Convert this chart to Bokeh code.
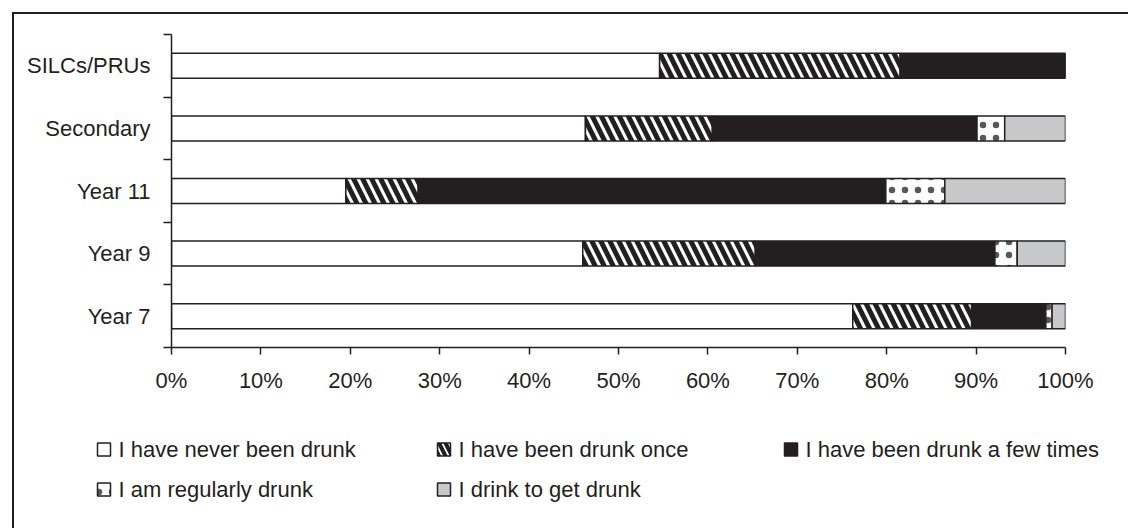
from bokeh.plotting import figure
from bokeh.layouts import column
from bokeh.models import ColumnDataSource, Range1d, FixedTicker
from bokeh.core.properties import value
from bokeh.embed import file_html
from bokeh.resources import INLINE

# ---- data (percent of pupils, each row sums to 100) ----
groups = ["Year 7", "Year 9", "Year 11", "Secondary", "SILCs/PRUs"]
series = [
    "I have never been drunk",
    "I have been drunk once",
    "I have been drunk a few times",
    "I am regularly drunk",
    "I drink to get drunk",
]
never = [76.2, 46.0, 19.5, 46.3, 54.6]
once = [13.3, 19.3, 8.1, 14.2, 26.9]
few_times = [8.3, 26.8, 52.3, 29.6, 18.5]
regularly = [0.7, 2.5, 6.6, 3.1, 0.0]
to_get_drunk = [1.5, 5.4, 13.5, 6.8, 0.0]
x_ticks = [0, 10, 20, 30, 40, 50, 60, 70, 80, 90, 100]
x_tick_labels = ["0%", "10%", "20%", "30%", "40%", "50%", "60%", "70%", "80%", "90%", "100%"]

INK = "#231f20"
GREY = "#c7c8ca"
FONT = "Liberation Sans"

keys = ["never", "once", "few", "regular", "get"]
fills = ["white", "white", INK, "white", GREY]
hatches = [None, "\\", None, ".", None]
hatch_scales = [18, 18, 18, 13, 18]
hatch_weights = [5, 5, 5, 1, 5]
hatch_alphas = [1.0, 1.0, 1.0, 0.75, 1.0]

centers = [i + 0.5 for i in range(len(groups))]
bounds = [float(i) for i in range(len(groups) + 1)]

src = ColumnDataSource(dict(
    y=centers, never=never, once=once, few=few_times,
    regular=regularly, get=to_get_drunk,
))

p = figure(
    width=1114, height=406, x_range=Range1d(0, 100), y_range=Range1d(0, len(groups)),
    toolbar_location=None, output_backend="svg",
    min_border_left=157, min_border_right=63, min_border_top=20, min_border_bottom=73,
)
p.frame_align = False
p.outline_line_color = None
p.xgrid.visible = False
p.ygrid.visible = False
p.background_fill_color = "white"
p.border_fill_color = "white"

p.hbar_stack(
    keys, y="y", height=0.4, source=src,
    fill_color=fills, line_color=INK, line_width=1.5,
    hatch_pattern=hatches, hatch_color=INK, hatch_alpha=hatch_alphas,
    hatch_scale=hatch_scales, hatch_weight=hatch_weights,
)

for ax in (p.xaxis, p.yaxis):
    ax.axis_line_color = INK
    ax.axis_line_width = 1.5
    ax.major_label_text_font = FONT
    ax.major_label_text_font_size = "22px"
    ax.major_label_text_color = INK

p.xaxis.ticker = FixedTicker(ticks=x_ticks)
p.xaxis.major_label_overrides = {t: s for t, s in zip(x_ticks, x_tick_labels)}
p.xaxis.major_tick_out = 7
p.xaxis.major_tick_in = 0
p.xaxis.major_tick_line_color = INK
p.xaxis.major_tick_line_width = 1.5
p.xaxis.major_label_standoff = 13

# category names sit between the boundary ticks
p.yaxis.ticker = FixedTicker(ticks=centers, minor_ticks=bounds)
p.yaxis.major_label_overrides = {c: g for c, g in zip(centers, groups)}
p.yaxis.major_tick_line_color = None
p.yaxis.major_tick_out = 8
p.yaxis.major_tick_in = 0
p.yaxis.minor_tick_out = 8
p.yaxis.minor_tick_in = 0
p.yaxis.minor_tick_line_color = INK
p.yaxis.minor_tick_line_width = 1.5
p.yaxis.major_label_standoff = 13

# ---- legend panel ----
leg = figure(
    width=1114, height=108, x_range=Range1d(14, 1128), y_range=Range1d(528, 420),
    x_axis_type=None, y_axis_type=None, toolbar_location=None,
    output_backend="svg", min_border=0,
)
leg.frame_align = False
leg.outline_line_color = None
leg.background_fill_color = "white"
leg.border_fill_color = "white"

col_x = [97, 437, 784]
row_y = [449, 489]
sw = 13
lx, ly = [], []
for i in range(len(series)):
    lx.append(col_x[i % 3])
    ly.append(row_y[i // 3])

leg_src = ColumnDataSource(dict(
    x=[v + sw / 2 for v in lx], y=ly, tx=[v + sw + 8 for v in lx],
    label=series, fill=fills,
    hatch=[h if h else " " for h in hatches],
    hscale=[8, 13, 8, 13, 8],
    halpha=hatch_alphas,
))
leg.rect(x="x", y="y", width=sw, height=sw, source=leg_src,
         fill_color="fill", line_color=INK, line_width=1.5,
         hatch_pattern="hatch", hatch_color=INK, hatch_alpha="halpha",
         hatch_scale="hscale", hatch_weight=4)
leg.text(x="tx", y="y", text="label", source=leg_src,
         text_baseline="middle", text_align="left",
         text_font=value(FONT), text_font_size=value("22px"), text_color=INK)

layout = column(
    p, leg, spacing=0, margin=(12, 0, 0, 12),
    styles={"border-left": f"2px solid {INK}", "border-top": f"2px solid {INK}",
            "background": "white"},
)

open("out.html", "w").write(file_html(layout, INLINE))
